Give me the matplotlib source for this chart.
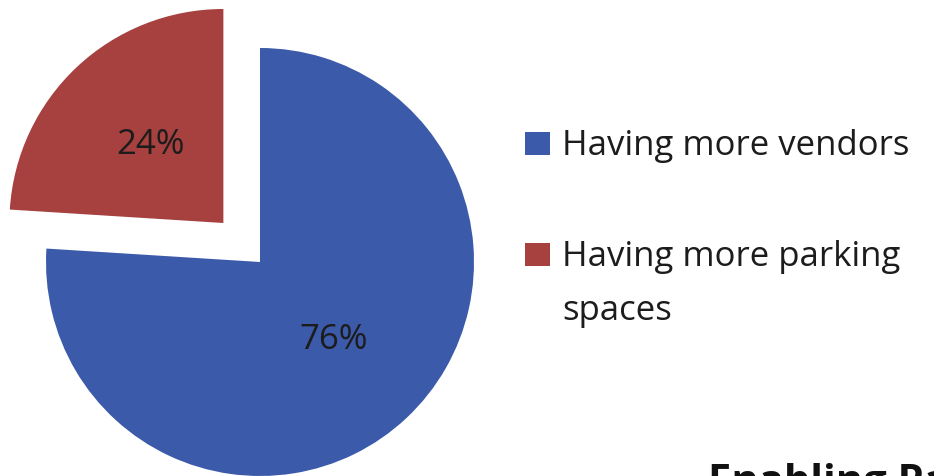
import matplotlib
matplotlib.use("Agg")
import matplotlib.pyplot as plt
from matplotlib.patches import Rectangle

# Survey shares
categories = ["Having more vendors", "Having more parking\nspaces"]
shares = [76, 24]
colors = ["#3B5AA9", "#A6413F"]
explode = [0, 0.25]
footer = "Enabling Parking"

W, H = 934, 476
DPI = 100
fig = plt.figure(figsize=(W / DPI, H / DPI), dpi=DPI)
fig.patch.set_facecolor("white")

FONT = "Open Sans"
FS = 25

# Pie axes: unit radius maps to 214 px, centre at (260, 262) px from top-left
cx, cy, r = 260, 262, 214
ax = fig.add_axes([0, 0, 1, 1])
ax.pie(shares, colors=colors, explode=explode, startangle=90,
       counterclock=False, radius=1, autopct="%.0f%%", pctdistance=0.5,
       textprops=dict(fontsize=FS, family=FONT, color="#1c1c1c"),
       wedgeprops=dict(linewidth=0))
ax.set_xlim(-cx / r, (W - cx) / r)
ax.set_ylim((cy - H) / r, cy / r)
ax.axis("off")

# Legend drawn in pixel space
def px(x, y):
    return x / W, 1 - y / H

for i, (lab, col) in enumerate(zip(categories, colors)):
    top = 132 + i * 111
    x0, y0 = px(525, top + 23)
    fig.patches.append(Rectangle((x0, y0), 25 / W, 23 / H, transform=fig.transFigure,
                                 facecolor=col, edgecolor="none"))
    tx, ty = px(562, top - 3)
    fig.text(tx, ty, lab, fontsize=FS, family=FONT, color="#1c1c1c",
             ha="left", va="top", linespacing=1.75)

fx, fy = px(708, 494)
fig.text(fx, fy, footer, fontsize=30, family=FONT, fontweight="bold",
         color="#111111", ha="left", va="baseline")

fig.savefig("out.png", dpi=DPI, facecolor="white")
